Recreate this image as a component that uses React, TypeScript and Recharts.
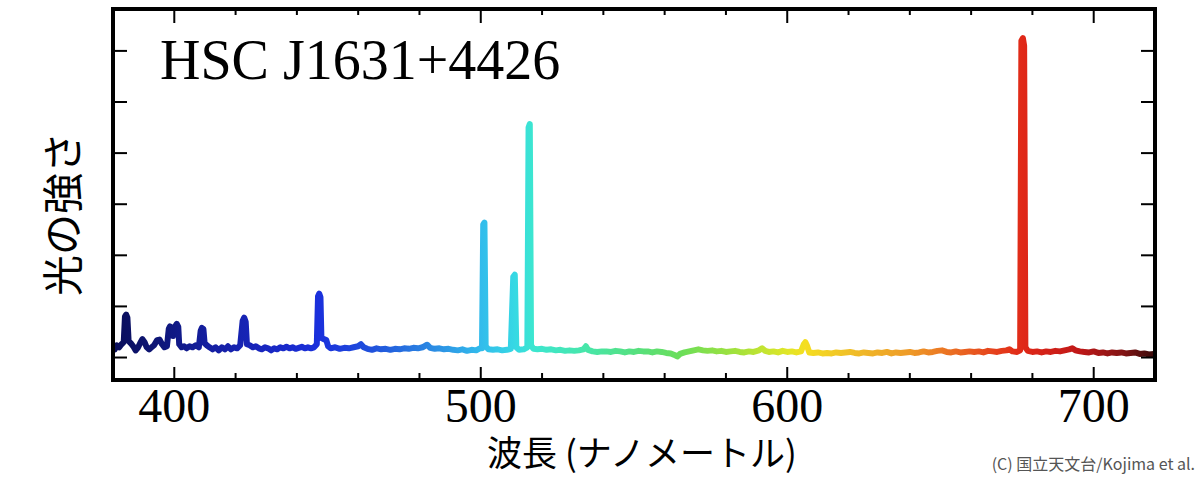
import { LineChart, Line, XAxis, YAxis } from "recharts";

// [wavelength nm, flux], split by region
const uvSide: [number, number][] = [
  [380.6, 0.16], [381.2, 0.24], [382, 0.2], [382.8, 0.26], [383.5, 0.3],
  [383.9, 0.8], [384.3, 0.84], [384.7, 0.78], [385.1, 0.32], [385.8, 0.28],
  [386.6, 0.22], [387.4, 0.14], [388.2, 0.2], [389, 0.3], [389.6, 0.36],
  [390.3, 0.3], [391, 0.2], [391.8, 0.16], [392.6, 0.2], [393.4, 0.24],
  [394.4, 0.34], [395.2, 0.35], [396, 0.26], [396.8, 0.2], [397.6, 0.22],
  [398.2, 0.56], [398.6, 0.61], [399.2, 0.58], [399.6, 0.42], [400.2, 0.6],
  [400.8, 0.66], [401.3, 0.6], [401.6, 0.26], [402.4, 0.2], [403.2, 0.22],
  [404, 0.18], [405, 0.22], [406, 0.2], [407, 0.24], [408, 0.2],
  [408.6, 0.52], [409, 0.58], [409.5, 0.56], [409.9, 0.28], [410.6, 0.24],
  [411.5, 0.2], [412.5, 0.16], [413.5, 0.2], [414.5, 0.14], [415.5, 0.2],
  [416.5, 0.16], [417.5, 0.22], [418.5, 0.16], [419.5, 0.2], [420.5, 0.18],
  [421.5, 0.24], [422.3, 0.72], [422.8, 0.78], [423.3, 0.7], [423.7, 0.26],
  [424.6, 0.24], [425.6, 0.2], [426.6, 0.22], [427.6, 0.18], [428.6, 0.16],
  [429.6, 0.2], [430.6, 0.18], [431.6, 0.14], [432.6, 0.18], [433.6, 0.16],
  [434.6, 0.2], [435.6, 0.18], [436.6, 0.21], [437.6, 0.18], [438.6, 0.2],
  [439.6, 0.17], [440.6, 0.19], [441.6, 0.21], [442.6, 0.18], [443.6, 0.2],
  [444.6, 0.18], [445.6, 0.2], [446.5, 0.26], [446.9, 1.2], [447.3, 1.25],
  [447.7, 1.18], [448, 0.38], [448.8, 0.36], [449.6, 0.34], [450.2, 0.22],
];

const blueGreen: [number, number][] = [
  [451, 0.18], [452.5, 0.2], [454, 0.17], [455.5, 0.19], [457, 0.18],
  [458.5, 0.2], [460, 0.22], [460.9, 0.26], [461.8, 0.2], [463, 0.17],
  [464.5, 0.15], [466, 0.18], [467.5, 0.16], [469, 0.17], [470.5, 0.15],
  [472, 0.17], [473.5, 0.16], [475, 0.18], [476.5, 0.17], [478, 0.19],
  [479.5, 0.18], [481, 0.2], [482.5, 0.25], [483.5, 0.19], [485, 0.17],
  [486.5, 0.18], [488, 0.16], [489.5, 0.17], [491, 0.15], [492.5, 0.14],
  [494, 0.16], [495.5, 0.13], [497, 0.15], [498.5, 0.14], [499.7, 0.18],
  [500.4, 0.18], [500.8, 2.6], [501.2, 2.64], [501.6, 0.22], [502.5, 0.16],
  [504, 0.15], [505.5, 0.16], [507, 0.14], [508.5, 0.15], [509.8, 0.17],
  [510.6, 1.58], [511.1, 1.62], [511.6, 0.2], [512.5, 0.15], [514, 0.16],
  [515.2, 0.2], [515.6, 4.5], [516, 4.57], [516.4, 0.24], [517.2, 0.17],
  [518.5, 0.16], [520, 0.17], [521.5, 0.15], [523, 0.16], [524.5, 0.14],
  [526, 0.15], [527.5, 0.13], [529, 0.14], [530.5, 0.13], [532, 0.14],
  [533.5, 0.16], [534.3, 0.22], [535, 0.15], [536.5, 0.12], [538, 0.11],
  [539.5, 0.12],
];

const greenOrange: [number, number][] = [
  [541, 0.12], [542.5, 0.11], [544, 0.13], [545.5, 0.12], [547, 0.1],
  [548.5, 0.12], [550, 0.11], [551.5, 0.13], [553, 0.12], [554.5, 0.12],
  [556, 0.1], [557.5, 0.12], [559, 0.11], [560.5, 0.09], [562, 0.08],
  [563.2, 0.05], [564.1, 0.02], [565, 0.07], [566.5, 0.1], [568, 0.12],
  [569.5, 0.14], [571, 0.16], [572.5, 0.14], [574, 0.13], [575.5, 0.14],
  [577, 0.12], [578.5, 0.13], [580, 0.11], [581.5, 0.12], [583, 0.13],
  [584.5, 0.11], [586, 0.1], [587.5, 0.12], [589, 0.11], [590.8, 0.14],
  [591.8, 0.18], [592.8, 0.13], [594, 0.11], [595.5, 0.12], [597, 0.1],
  [598.5, 0.13], [600, 0.11], [601.5, 0.12], [603, 0.1], [604.5, 0.12],
  [605.4, 0.26], [605.9, 0.3], [606.4, 0.24], [607.2, 0.1], [608.5, 0.09],
  [610, 0.1], [611.5, 0.08], [613, 0.09], [614.5, 0.08], [616, 0.1],
  [617.5, 0.09], [619, 0.1], [620.5, 0.11], [622, 0.09], [623.5, 0.08],
  [625, 0.1], [626.5, 0.09], [628, 0.08], [629.5, 0.1], [631, 0.09],
  [632.5, 0.11], [634, 0.08], [635.5, 0.1], [637, 0.09], [638.5, 0.1],
  [640, 0.11], [641.5, 0.09], [643, 0.1], [644.5, 0.12], [646, 0.1],
  [647.5, 0.11], [649, 0.13], [650.5, 0.14], [652, 0.11], [653.5, 0.1],
  [655, 0.12], [656.5, 0.1], [658, 0.11], [659.5, 0.12],
];

const redEnd: [number, number][] = [
  [661, 0.11], [662.5, 0.12], [664, 0.1], [665.5, 0.13], [667, 0.12],
  [668.5, 0.11], [670, 0.13], [671.5, 0.14], [672.5, 0.16], [673.5, 0.12],
  [675, 0.11], [676, 0.14], [676.4, 6.2], [676.9, 6.25], [677.3, 6.1],
  [677.7, 0.2], [678.5, 0.13], [680, 0.11], [681.5, 0.12], [683, 0.1],
  [684.5, 0.12], [686, 0.11], [687.5, 0.13], [689, 0.12], [690.5, 0.14],
  [692, 0.16], [693, 0.18], [694, 0.14], [695.5, 0.12], [697, 0.11],
  [698.5, 0.1], [700, 0.12], [701.5, 0.09], [703, 0.1], [704.5, 0.08],
  [706, 0.1], [707.5, 0.09], [709, 0.1], [710.5, 0.08], [712, 0.09],
  [713.5, 0.1], [715, 0.07], [716.5, 0.08], [718, 0.06], [719.6, 0.07],
];

// line colour along wavelength
const colorStops: [number, string][] = [
  [380, "#0a0e5a"], [395, "#0e1678"], [410, "#141e9e"], [430, "#1826c0"],
  [447, "#1a30dc"], [465, "#2052dc"], [482, "#2a84e2"], [500, "#32bcec"],
  [511, "#36d8e4"], [517, "#3ce6d0"], [535, "#48e6a8"], [550, "#55e080"],
  [565, "#6ade5a"], [585, "#a8e23a"], [600, "#e0e628"], [606, "#f5de20"],
  [620, "#f0c028"], [640, "#ee9a28"], [655, "#ea6a22"], [668, "#e5401c"],
  [677, "#e02818"], [695, "#c01818"], [710, "#801414"], [720, "#3a0a0a"],
];

const xTicks = [400, 420, 440, 460, 480, 500, 520, 540, 560, 580, 600, 620, 640, 660, 680, 700];
const yTicks = [0, 1, 2, 3, 4, 5, 6];

const spectrum = [...uvSide, ...blueGreen, ...greenOrange, ...redEnd].map(
  ([nm, flux]) => ({ nm, flux })
);
const nmMin = spectrum[0].nm;
const nmMax = spectrum[spectrum.length - 1].nm;

const SERIF = "'Liberation Serif', 'Times New Roman', serif";
const SANS = "'Noto Sans CJK JP', 'Noto Sans', sans-serif";

const BottomTick = (props: any) => {
  const { x, y, payload } = props;
  const major = payload.value % 100 === 0;
  return (
    <g>
      <line x1={x} x2={x} y1={y} y2={y - (major ? 13 : 7)} stroke="#000" strokeWidth={2} />
      {major && (
        <text x={x} y={y + 42} textAnchor="middle" fontFamily={SERIF} fontSize={48} fill="#000">
          {payload.value}
        </text>
      )}
    </g>
  );
};

const TopTick = (props: any) => {
  const { x, y, payload } = props;
  const major = payload.value % 100 === 0;
  return <line x1={x} x2={x} y1={y} y2={y + (major ? 14 : 6)} stroke="#000" strokeWidth={2} />;
};

const LeftTick = (props: any) => {
  const { x, y } = props;
  return <line x1={x} x2={x + 14} y1={y} y2={y} stroke="#000" strokeWidth={2} />;
};

const RightTick = (props: any) => {
  const { x, y } = props;
  return <line x1={x} x2={x - 14} y1={y} y2={y} stroke="#000" strokeWidth={2} />;
};

const frame = { stroke: "#000", strokeWidth: 4, strokeLinecap: "square" as const };

export default function App() {
  return (
    <div style={{ position: "absolute", left: 0, top: 0, width: 1200, height: 480, background: "#fff" }}>
      <LineChart
        width={1200}
        height={480}
        data={spectrum}
        margin={{ top: 8, right: 44, bottom: 99, left: 112 }}
      >
        <defs>
          <linearGradient id="specGrad" x1="0" y1="0" x2="1" y2="0">
            {colorStops.map(([nm, c]) => (
              <stop
                key={nm}
                offset={Math.min(1, Math.max(0, (nm - nmMin) / (nmMax - nmMin)))}
                stopColor={c}
              />
            ))}
          </linearGradient>
        </defs>
        <XAxis
          dataKey="nm"
          type="number"
          domain={[380, 720]}
          allowDataOverflow
          ticks={xTicks}
          interval={0}
          height={1}
          tickSize={0}
          tickMargin={0}
          tickLine={false}
          axisLine={frame}
          tick={<BottomTick />}
        />
        <XAxis
          xAxisId="top"
          orientation="top"
          dataKey="nm"
          type="number"
          domain={[380, 720]}
          allowDataOverflow
          ticks={xTicks}
          interval={0}
          height={1}
          tickSize={0}
          tickMargin={0}
          tickLine={false}
          axisLine={frame}
          tick={<TopTick />}
        />
        <YAxis
          type="number"
          domain={[-0.44, 6.82]}
          allowDataOverflow
          ticks={yTicks}
          interval={0}
          width={1}
          tickSize={0}
          tickMargin={0}
          tickLine={false}
          axisLine={frame}
          tick={<LeftTick />}
        />
        <YAxis
          yAxisId="right"
          orientation="right"
          type="number"
          domain={[-0.44, 6.82]}
          allowDataOverflow
          ticks={yTicks}
          interval={0}
          width={1}
          tickSize={0}
          tickMargin={0}
          tickLine={false}
          axisLine={frame}
          tick={<RightTick />}
        />
        <Line
          type="linear"
          dataKey="flux"
          stroke="url(#specGrad)"
          strokeWidth={6}
          strokeLinejoin="round"
          strokeLinecap="round"
          dot={false}
          activeDot={false}
          isAnimationActive={false}
        />
        <text x={160} y={79} fontFamily={SERIF} fontSize={56} fill="#000">
          HSC J1631+4426
        </text>
        <text x={642} y={466} textAnchor="middle" fontFamily={SANS} fontSize={35} fill="#000">
          波長 (ナノメートル)
        </text>
        <text
          x={60}
          y={214}
          transform="rotate(-90 60 214)"
          textAnchor="middle"
          dominantBaseline="central"
          fontFamily={SANS}
          fontSize={41}
          fill="#000"
        >
          光の強さ
        </text>
        <text x={1195} y={470} textAnchor="end" fontFamily={SANS} fontSize={16} fill="#555">
          (C) 国立天文台/Kojima et al.
        </text>
      </LineChart>
    </div>
  );
}
